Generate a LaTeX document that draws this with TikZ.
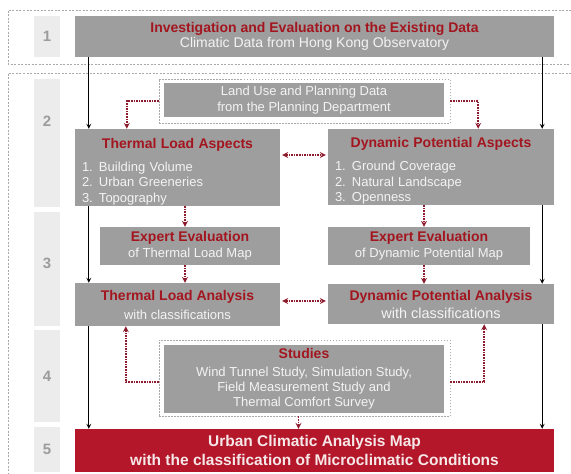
\documentclass[tikz,border=0pt]{standalone}
\usepackage{fontspec}
\setmainfont{Liberation Sans}
\usepackage{tikz}
\usetikzlibrary{shapes.geometric, arrows}

\definecolor{boxgrey}{HTML}{9E9E9E}
\definecolor{titlered}{HTML}{A3161F}
\definecolor{mapred}{HTML}{B4162A}
\definecolor{maptext}{HTML}{F6E8E8}
\definecolor{linkred}{HTML}{8E1B2D}
\definecolor{stepgrey}{HTML}{ECECEC}
\definecolor{numgrey}{HTML}{9C9C9C}
\definecolor{framegrey}{HTML}{A9A9A9}
\definecolor{lighttext}{HTML}{F3F3F3}

\tikzstyle{stepcell} = [rectangle, fill=stepgrey, minimum width=26pt, inner sep=0pt, text=numgrey, font=\fontsize{15}{15}\selectfont\bfseries]
\tikzstyle{greybox} = [rectangle, fill=boxgrey, inner sep=0pt, text=lighttext, align=center, font=\fontsize{13}{15.5}\selectfont]
\tikzstyle{listbox} = [greybox, inner xsep=7pt, align=left]
\tikzstyle{mapbox} = [rectangle, fill=mapred, inner sep=0pt, text=maptext, align=center, font=\fontsize{15.5}{19}\selectfont\bfseries]
\tikzstyle{dataframe} = [rectangle, draw=framegrey, line width=0.8pt, dash pattern=on 1.5pt off 1.5pt, inner sep=0pt]
\tikzstyle{groupline} = [draw=framegrey, line width=0.8pt, dash pattern=on 2pt off 1.5pt]
\tikzstyle{arrow} = [line width=1.2pt, ->, >=stealth]
\tikzstyle{dotarrow} = [linkred, line width=1.6pt, densely dotted, ->, >=stealth]

\newcommand{\boxtitle}[1]{{\color{titlered}\fontsize{14}{17}\selectfont\bfseries #1}}
\newcommand{\listline}[2]{\makebox[17pt][l]{#1}#2}

\begin{document}
\begin{tikzpicture}[x=1pt, y=-1pt]
    \useasboundingbox (0,0) rectangle (571,474);
    % the two dashed groups
    \draw [groupline] (571,10) -| (8,64) -- (571,64);
    \draw [groupline] (571,73) -| (8,480);

    % step numbers
    \node (Step1) [stepcell, minimum height=41pt] at (47,36.5) {1};
    \node (Step2) [stepcell, minimum height=128pt, text depth=44pt] at (47,143) {2};
    \node (Step3) [stepcell, minimum height=114pt, text depth=12pt] at (47,269) {3};
    \node (Step4) [stepcell, minimum height=92pt] at (47,376) {4};
    \node (Step5) [stepcell, minimum height=45pt] at (47,449.5) {5};

    % boxes
    \node (Investigation) [greybox, minimum width=479pt, minimum height=41pt, font=\fontsize{14}{15}\selectfont] at (314.5,36.5)
        {\boxtitle{Investigation and Evaluation on the Existing Data}\\Climatic Data from Hong Kong Observatory};
    \node (LandUseFrame) [dataframe, minimum width=291pt, minimum height=44pt] at (304.5,101) {};
    \node (LandUse) [greybox, minimum width=280pt, minimum height=34pt] at (304,100)
        {Land Use and Planning Data\\from the Planning Department};
    \node (ThermalAspects) [listbox, minimum width=205pt, minimum height=77pt, text width=191pt] at (177.5,167.5)
        {{\centering\rule{0pt}{18pt}\boxtitle{Thermal Load Aspects}\par}\vspace{7.5pt}
         \listline{1.}{Building Volume}\\\listline{2.}{Urban Greeneries}\\\listline{3.}{Topography}};
    \node (DynamicAspects) [listbox, minimum width=226pt, minimum height=76pt, text width=212pt] at (441,167)
        {{\centering\rule{0pt}{18pt}\boxtitle{Dynamic Potential Aspects}\par}\vspace{7.5pt}
         \listline{1.}{Ground Coverage}\\\listline{2.}{Natural Landscape}\\\listline{3.}{Openness}};
    \node (ThermalExpert) [greybox, minimum width=180pt, minimum height=38pt] at (190,246)
        {\boxtitle{Expert Evaluation}\\of Thermal Load Map};
    \node (DynamicExpert) [greybox, minimum width=202pt, minimum height=38pt] at (429,246)
        {\boxtitle{Expert Evaluation}\\of Dynamic Potential Map};
    \node (ThermalAnalysis) [greybox, minimum width=205pt, minimum height=43pt, font=\fontsize{13}{19}\selectfont] at (177.5,304.5)
        {\boxtitle{Thermal Load Analysis}\\with classifications};
    \node (DynamicAnalysis) [greybox, minimum width=226pt, minimum height=40pt, font=\fontsize{14.5}{18}\selectfont] at (441,304)
        {\boxtitle{Dynamic Potential Analysis}\\with classifications};
    \node (StudiesFrame) [dataframe, minimum width=291pt, minimum height=76pt] at (304.5,378) {};
    \node (Studies) [greybox, minimum width=280pt, minimum height=68pt, font=\fontsize{13}{15}\selectfont] at (304,379)
        {\boxtitle{Studies}\\[3pt]Wind Tunnel Study, Simulation Study,\\Field Measurement Study and\\Thermal Comfort Survey};
    \node (ClimaticMap) [mapbox, minimum width=479pt, minimum height=43pt] at (314.5,450.5)
        {Urban Climatic Analysis Map\\with the classification of Microclimatic Conditions};

    % main flow
    \draw [arrow] ([xshift=14pt]Investigation.south west) -- ([xshift=14pt]ThermalAspects.north west);
    \draw [arrow] ([xshift=14pt]ThermalAspects.south west) -- ([xshift=14pt]ThermalAnalysis.north west);
    \draw [arrow] ([xshift=14pt]ThermalAnalysis.south west) -- ([xshift=14pt]ClimaticMap.north west);
    \draw [arrow] ([xshift=-12pt]Investigation.south east) -- ([xshift=-12pt]DynamicAspects.north east);
    \draw [arrow] ([xshift=-12pt]DynamicAspects.south east) -- ([xshift=-12pt]DynamicAnalysis.north east);
    \draw [arrow] ([xshift=-12pt]DynamicAnalysis.south east) -- ([xshift=-12pt]ClimaticMap.north east);

    % dotted links
    \coordinate (ThermalLink) at ([xshift=-5pt]ThermalExpert.north);
    \coordinate (DynamicLink) at ([xshift=-5pt]DynamicExpert.north);
    \coordinate (StudiesLink) at ([xshift=-6pt]StudiesFrame.south);
    \draw [dotarrow] (LandUseFrame.west) -| ([xshift=52pt]ThermalAspects.north west);
    \draw [dotarrow] (LandUseFrame.east) -| ([xshift=-76pt]DynamicAspects.north east);
    \draw [dotarrow] (ThermalAspects.south -| ThermalLink) -- (ThermalLink);
    \draw [dotarrow] (ThermalExpert.south -| ThermalLink) -- (ThermalAnalysis.north -| ThermalLink);
    \draw [dotarrow] (DynamicAspects.south -| DynamicLink) -- (DynamicLink);
    \draw [dotarrow] (DynamicExpert.south -| DynamicLink) -- (DynamicAnalysis.north -| DynamicLink);
    \draw [dotarrow, <->, shorten <=2pt, shorten >=2pt] ([yshift=12.5pt]ThermalAspects.east) -- ([yshift=12.5pt]ThermalAspects.east -| DynamicAspects.west);
    \draw [dotarrow, <->, shorten <=2pt, shorten >=2pt] ([yshift=3.5pt]ThermalAnalysis.east) -- ([yshift=3.5pt]ThermalAnalysis.east -| DynamicAnalysis.west);
    \draw [dotarrow] ([yshift=-4pt]StudiesFrame.west) -| ([xshift=51pt]ThermalAnalysis.south west);
    \draw [dotarrow] ([yshift=-4pt]StudiesFrame.east) -| ([xshift=-70pt]DynamicAnalysis.south east);
    \draw [dotarrow] (StudiesLink) -- (StudiesLink |- ClimaticMap.north);
\end{tikzpicture}
\end{document}
